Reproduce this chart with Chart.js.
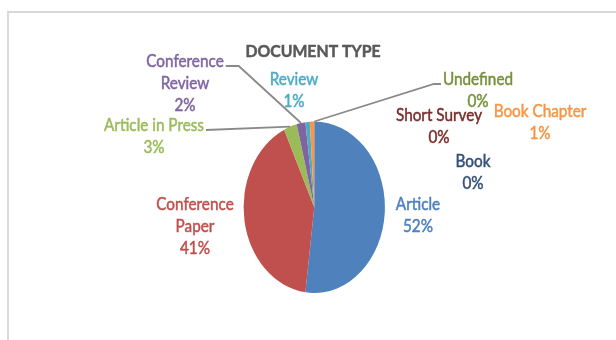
<!DOCTYPE html>
<html>
<head>
<meta charset="utf-8">
<script src="https://cdn.jsdelivr.net/npm/chart.js@4"></script>
<style>
  html, body { margin: 0; padding: 0; background: #fff; }
  #wrap { position: relative; width: 616px; height: 340px; overflow: hidden; }
  #frame { position: absolute; left: 7px; top: 11px; width: 700px; height: 400px; border: 2px solid #d9d9d9; }
  canvas { position: absolute; left: 0; top: 0; }
</style>
</head>
<body>
<div id="wrap">
  <div id="frame"></div>
  <canvas id="chart" width="616" height="340"></canvas>
</div>
<script>
// Document type shares (%), slice order as in the spreadsheet
const categories = ['Article', 'Conference Paper', 'Article in Press', 'Conference Review', 'Review', 'Book Chapter', 'Book', 'Short Survey', 'Undefined'];
const shares = [52, 41, 3, 2, 1, 1, 0, 0, 0];
const sliceColors = ['#4F81BD', '#C0504D', '#9BBB59', '#8064A2', '#4BACC6', '#F79646', '#2C4D75', '#772C2A', '#5F7530'];
const labelColors = ['#4F81BD', '#C0504D', '#9BBB59', '#8064A2', '#4BACC6', '#F79646', '#34507A', '#7A2E2C', '#76923C'];
const labelLines = [['Article'], ['Conference', 'Paper'], ['Article in Press'], ['Conference', 'Review'], ['Review'], ['Book Chapter'], ['Book'], ['Short Survey'], ['Undefined']];
const chartTitle = 'DOCUMENT TYPE';

// hand placed label boxes (center of first line), like in the original sheet
const labelPos = [
    { x: 418, y: 205 },
    { x: 195, y: 205 },
    { x: 154, y: 126, leader: { side: 'right', elbow: 0 } },
    { x: 185, y: 62, leader: { side: 'right', elbow: 13 } },
    { x: 294, y: 80 },
    { x: 540, y: 112 },
    { x: 473, y: 162 },
    { x: 439, y: 116 },
    { x: 478, y: 80, leader: { side: 'left', elbow: 7 } }
];

const ELL_X = 0.824;      // pie is squashed horizontally
const TEXT_SX = 0.9;      // narrow text like the original
const LINE_GAP = 22;
const FONT = 'Lato, "Open Sans", sans-serif';

function drawText(ctx, txt, x, y, font, color, sx) {
    ctx.save();
    ctx.font = font;
    ctx.fillStyle = color;
    ctx.strokeStyle = color;
    ctx.lineWidth = 0.5;
    ctx.textAlign = 'center';
    ctx.textBaseline = 'middle';
    ctx.translate(x, y);
    ctx.scale(sx || TEXT_SX, 1);
    ctx.fillText(txt, 0, 0);
    ctx.strokeText(txt, 0, 0);
    ctx.restore();
}

const ellipsePlugin = {
    id: 'ellipse',
    beforeDatasetDraw(chart) {
        const arc = chart.getDatasetMeta(0).data[0];
        const ctx = chart.ctx;
        ctx.save();
        ctx.translate(arc.x, arc.y);
        ctx.scale(ELL_X, 1);
        ctx.translate(-arc.x, -arc.y);
    },
    afterDatasetDraw(chart) {
        chart.ctx.restore();
    }
};

const labelPlugin = {
    id: 'sliceLabels',
    afterDraw(chart) {
        const ctx = chart.ctx;
        const meta = chart.getDatasetMeta(0);
        const total = shares.reduce((a, b) => a + b, 0);

        drawText(ctx, chartTitle, 313, 52, 'bold 17px ' + FONT, '#595959', 0.93);

        meta.data.forEach((arc, i) => {
            const pos = labelPos[i];
            const font = '17px ' + FONT;
            const lines = labelLines[i].concat([Math.round(shares[i] / total * 100) + '%']);
            lines.forEach((ln, k) => {
                drawText(ctx, ln, pos.x, pos.y + k * LINE_GAP, font, labelColors[i]);
            });

            if (pos.leader) {
                ctx.save();
                ctx.font = font;
                const w = ctx.measureText(labelLines[i][0]).width * TEXT_SX;
                const mid = (arc.startAngle + arc.endAngle) / 2;
                const px = arc.x + Math.cos(mid) * arc.outerRadius * ELL_X;
                const py = arc.y + Math.sin(mid) * arc.outerRadius;
                const dir = pos.leader.side === 'right' ? 1 : -1;
                const sx = pos.x + dir * (w / 2 + 2);
                const sy = pos.y + 4;
                ctx.strokeStyle = '#8a8a8a';
                ctx.lineWidth = 1.8;
                ctx.beginPath();
                ctx.moveTo(sx, sy);
                ctx.lineTo(sx + dir * pos.leader.elbow, sy);
                ctx.lineTo(px, py);
                ctx.stroke();
                ctx.restore();
            }
        });
    }
};

new Chart(document.getElementById('chart'), {
    type: 'pie',
    data: {
        labels: categories,
        datasets: [{
            data: shares,
            backgroundColor: sliceColors,
            borderWidth: 0
        }]
    },
    options: {
        responsive: false,
        animation: false,
        layout: {
            padding: { left: 228.5, right: 216, top: 121.5, bottom: 47 }
        },
        plugins: {
            legend: { display: false },
            title: { display: false },
            tooltip: { enabled: false }
        }
    },
    plugins: [ellipsePlugin, labelPlugin]
});
</script>
</body>
</html>
